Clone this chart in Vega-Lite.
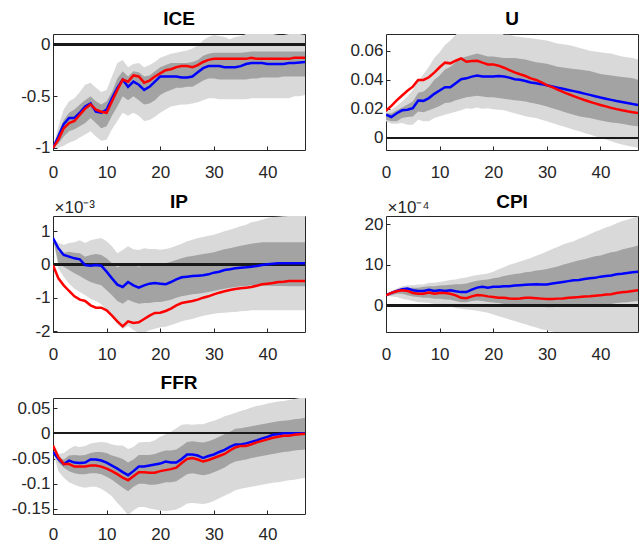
{
"$schema":"https://vega.github.io/schema/vega-lite/v6.json",
"padding":{"left":10,"top":9,"right":0,"bottom":0},
"columns":2,
"spacing":{"row":66,"column":81},
"bounds":"flush",
"datasets":{
"ICE":[
{"h":0,"b":-1,"r":-1,"l1":-1,"u1":-1,"l2":-1,"u2":-1},
{"h":1,"b":-0.89,"r":-0.92,"l1":-1.0,"u1":-0.79,"l2":-0.96,"u2":-0.85},
{"h":2,"b":-0.77,"r":-0.81,"l1":-0.98,"u1":-0.63,"l2":-0.89,"u2":-0.73},
{"h":3,"b":-0.71,"r":-0.76,"l1":-0.95,"u1":-0.55,"l2":-0.84,"u2":-0.66},
{"h":4,"b":-0.71,"r":-0.74,"l1":-0.93,"u1":-0.52,"l2":-0.82,"u2":-0.63},
{"h":5,"b":-0.66,"r":-0.68,"l1":-0.9,"u1":-0.46,"l2":-0.79,"u2":-0.58},
{"h":6,"b":-0.6,"r":-0.62,"l1":-0.87,"u1":-0.39,"l2":-0.76,"u2":-0.54},
{"h":7,"b":-0.57,"r":-0.58,"l1":-0.84,"u1":-0.37,"l2":-0.71,"u2":-0.5},
{"h":8,"b":-0.65,"r":-0.63,"l1":-0.89,"u1":-0.42,"l2":-0.76,"u2":-0.55},
{"h":9,"b":-0.66,"r":-0.65,"l1":-0.93,"u1":-0.46,"l2":-0.81,"u2":-0.58},
{"h":10,"b":-0.63,"r":-0.66,"l1":-0.92,"u1":-0.44,"l2":-0.79,"u2":-0.55},
{"h":11,"b":-0.52,"r":-0.55,"l1":-0.82,"u1":-0.31,"l2":-0.69,"u2":-0.46},
{"h":12,"b":-0.42,"r":-0.44,"l1":-0.74,"u1":-0.18,"l2":-0.6,"u2":-0.33},
{"h":13,"b":-0.34,"r":-0.34,"l1":-0.66,"u1":-0.15,"l2":-0.5,"u2":-0.26},
{"h":14,"b":-0.41,"r":-0.36,"l1":-0.69,"u1":-0.22,"l2":-0.54,"u2":-0.31},
{"h":15,"b":-0.36,"r":-0.3,"l1":-0.66,"u1":-0.19,"l2":-0.5,"u2":-0.26},
{"h":16,"b":-0.39,"r":-0.31,"l1":-0.69,"u1":-0.18,"l2":-0.54,"u2":-0.27},
{"h":17,"b":-0.44,"r":-0.37,"l1":-0.74,"u1":-0.22,"l2":-0.58,"u2":-0.31},
{"h":18,"b":-0.41,"r":-0.35,"l1":-0.73,"u1":-0.2,"l2":-0.57,"u2":-0.3},
{"h":19,"b":-0.36,"r":-0.31,"l1":-0.7,"u1":-0.17,"l2":-0.54,"u2":-0.26},
{"h":20,"b":-0.31,"r":-0.28,"l1":-0.66,"u1":-0.13,"l2":-0.49,"u2":-0.22},
{"h":21,"b":-0.31,"r":-0.25,"l1":-0.63,"u1":-0.11,"l2":-0.46,"u2":-0.2},
{"h":22,"b":-0.31,"r":-0.24,"l1":-0.6,"u1":-0.09,"l2":-0.44,"u2":-0.18},
{"h":23,"b":-0.31,"r":-0.22,"l1":-0.59,"u1":-0.08,"l2":-0.42,"u2":-0.18},
{"h":24,"b":-0.32,"r":-0.21,"l1":-0.58,"u1":-0.07,"l2":-0.42,"u2":-0.18},
{"h":25,"b":-0.32,"r":-0.21,"l1":-0.58,"u1":-0.06,"l2":-0.41,"u2":-0.18},
{"h":26,"b":-0.31,"r":-0.22,"l1":-0.57,"u1":-0.04,"l2":-0.41,"u2":-0.17},
{"h":27,"b":-0.27,"r":-0.2,"l1":-0.56,"u1":-0.01,"l2":-0.38,"u2":-0.15},
{"h":28,"b":-0.23,"r":-0.17,"l1":-0.54,"u1":0.04,"l2":-0.35,"u2":-0.11},
{"h":29,"b":-0.21,"r":-0.15,"l1":-0.52,"u1":0.07,"l2":-0.33,"u2":-0.09},
{"h":30,"b":-0.21,"r":-0.14,"l1":-0.52,"u1":0.09,"l2":-0.33,"u2":-0.08},
{"h":31,"b":-0.21,"r":-0.14,"l1":-0.53,"u1":0.08,"l2":-0.34,"u2":-0.08},
{"h":32,"b":-0.22,"r":-0.14,"l1":-0.53,"u1":0.07,"l2":-0.34,"u2":-0.08},
{"h":33,"b":-0.22,"r":-0.14,"l1":-0.53,"u1":0.05,"l2":-0.34,"u2":-0.08},
{"h":34,"b":-0.22,"r":-0.14,"l1":-0.53,"u1":0.07,"l2":-0.34,"u2":-0.08},
{"h":35,"b":-0.21,"r":-0.14,"l1":-0.53,"u1":0.08,"l2":-0.34,"u2":-0.08},
{"h":36,"b":-0.19,"r":-0.14,"l1":-0.53,"u1":0.1,"l2":-0.34,"u2":-0.075},
{"h":37,"b":-0.18,"r":-0.13,"l1":-0.52,"u1":0.12,"l2":-0.33,"u2":-0.07},
{"h":38,"b":-0.18,"r":-0.14,"l1":-0.52,"u1":0.13,"l2":-0.33,"u2":-0.07},
{"h":39,"b":-0.18,"r":-0.14,"l1":-0.52,"u1":0.13,"l2":-0.32,"u2":-0.07},
{"h":40,"b":-0.19,"r":-0.14,"l1":-0.52,"u1":0.12,"l2":-0.32,"u2":-0.07},
{"h":41,"b":-0.19,"r":-0.14,"l1":-0.52,"u1":0.1,"l2":-0.32,"u2":-0.07},
{"h":42,"b":-0.19,"r":-0.14,"l1":-0.52,"u1":0.09,"l2":-0.32,"u2":-0.07},
{"h":43,"b":-0.19,"r":-0.14,"l1":-0.52,"u1":0.09,"l2":-0.31,"u2":-0.07},
{"h":44,"b":-0.18,"r":-0.14,"l1":-0.52,"u1":0.1,"l2":-0.31,"u2":-0.07},
{"h":45,"b":-0.18,"r":-0.13,"l1":-0.5,"u1":0.1,"l2":-0.31,"u2":-0.07},
{"h":46,"b":-0.175,"r":-0.13,"l1":-0.5,"u1":0.1,"l2":-0.31,"u2":-0.07},
{"h":47,"b":-0.17,"r":-0.13,"l1":-0.49,"u1":0.09,"l2":-0.31,"u2":-0.07}
],
"U":[
{"h":0,"b":0.016,"r":0.0187,"l1":0.0114,"u1":0.018,"l2":0.0125,"u2":0.017},
{"h":1,"b":0.0144,"r":0.0221,"l1":0.0098,"u1":0.0194,"l2":0.0114,"u2":0.017},
{"h":2,"b":0.017,"r":0.0258,"l1":0.0098,"u1":0.022,"l2":0.0114,"u2":0.019},
{"h":3,"b":0.019,"r":0.0292,"l1":0.0103,"u1":0.025,"l2":0.0137,"u2":0.021},
{"h":4,"b":0.0194,"r":0.0324,"l1":0.0091,"u1":0.0285,"l2":0.0144,"u2":0.023},
{"h":5,"b":0.0205,"r":0.0353,"l1":0.0091,"u1":0.033,"l2":0.0148,"u2":0.025},
{"h":6,"b":0.0258,"r":0.0399,"l1":0.0125,"u1":0.039,"l2":0.0182,"u2":0.031},
{"h":7,"b":0.0255,"r":0.0399,"l1":0.0114,"u1":0.044,"l2":0.0176,"u2":0.032},
{"h":8,"b":0.0274,"r":0.0417,"l1":0.0114,"u1":0.049,"l2":0.019,"u2":0.035},
{"h":9,"b":0.0303,"r":0.0449,"l1":0.0137,"u1":0.055,"l2":0.0205,"u2":0.04},
{"h":10,"b":0.0326,"r":0.0486,"l1":0.015,"u1":0.059,"l2":0.022,"u2":0.043},
{"h":11,"b":0.0349,"r":0.0518,"l1":0.016,"u1":0.064,"l2":0.024,"u2":0.047},
{"h":12,"b":0.0349,"r":0.0513,"l1":0.017,"u1":0.067,"l2":0.0244,"u2":0.049},
{"h":13,"b":0.0376,"r":0.0531,"l1":0.018,"u1":0.071,"l2":0.026,"u2":0.052},
{"h":14,"b":0.0404,"r":0.0547,"l1":0.019,"u1":0.074,"l2":0.027,"u2":0.055},
{"h":15,"b":0.041,"r":0.0524,"l1":0.0205,"u1":0.076,"l2":0.028,"u2":0.056},
{"h":16,"b":0.0422,"r":0.0529,"l1":0.02,"u1":0.077,"l2":0.0285,"u2":0.057},
{"h":17,"b":0.0429,"r":0.0531,"l1":0.021,"u1":0.077,"l2":0.029,"u2":0.058},
{"h":18,"b":0.0422,"r":0.0518,"l1":0.02,"u1":0.077,"l2":0.0285,"u2":0.057},
{"h":19,"b":0.0422,"r":0.0506,"l1":0.0205,"u1":0.076,"l2":0.028,"u2":0.056},
{"h":20,"b":0.0422,"r":0.0506,"l1":0.0198,"u1":0.075,"l2":0.028,"u2":0.056},
{"h":21,"b":0.0426,"r":0.0497,"l1":0.0194,"u1":0.073,"l2":0.0275,"u2":0.0555},
{"h":22,"b":0.0422,"r":0.0483,"l1":0.019,"u1":0.071,"l2":0.027,"u2":0.055},
{"h":23,"b":0.0415,"r":0.0467,"l1":0.018,"u1":0.071,"l2":0.0265,"u2":0.055},
{"h":24,"b":0.0404,"r":0.0451,"l1":0.017,"u1":0.07,"l2":0.026,"u2":0.055},
{"h":25,"b":0.04,"r":0.0438,"l1":0.016,"u1":0.0695,"l2":0.0255,"u2":0.0545},
{"h":26,"b":0.0392,"r":0.0426,"l1":0.015,"u1":0.069,"l2":0.025,"u2":0.054},
{"h":27,"b":0.0381,"r":0.041,"l1":0.0143,"u1":0.0685,"l2":0.0242,"u2":0.053},
{"h":28,"b":0.0376,"r":0.0399,"l1":0.0137,"u1":0.068,"l2":0.0235,"u2":0.052},
{"h":29,"b":0.037,"r":0.0383,"l1":0.0125,"u1":0.0675,"l2":0.0226,"u2":0.0515},
{"h":30,"b":0.0362,"r":0.0363,"l1":0.0114,"u1":0.067,"l2":0.0217,"u2":0.051},
{"h":31,"b":0.0354,"r":0.0349,"l1":0.0102,"u1":0.066,"l2":0.0205,"u2":0.05},
{"h":32,"b":0.0346,"r":0.0333,"l1":0.0091,"u1":0.065,"l2":0.0194,"u2":0.049},
{"h":33,"b":0.0338,"r":0.0317,"l1":0.008,"u1":0.0645,"l2":0.0182,"u2":0.0485},
{"h":34,"b":0.033,"r":0.0302,"l1":0.0068,"u1":0.064,"l2":0.017,"u2":0.048},
{"h":35,"b":0.0322,"r":0.0288,"l1":0.0057,"u1":0.063,"l2":0.016,"u2":0.0475},
{"h":36,"b":0.0314,"r":0.0274,"l1":0.0046,"u1":0.062,"l2":0.015,"u2":0.047},
{"h":37,"b":0.0305,"r":0.0261,"l1":0.0034,"u1":0.061,"l2":0.0143,"u2":0.0465},
{"h":38,"b":0.0296,"r":0.0249,"l1":0.0023,"u1":0.06,"l2":0.0137,"u2":0.046},
{"h":39,"b":0.0287,"r":0.0238,"l1":0.0011,"u1":0.0595,"l2":0.0128,"u2":0.045},
{"h":40,"b":0.0278,"r":0.0227,"l1":0,"u1":0.059,"l2":0.012,"u2":0.044},
{"h":41,"b":0.027,"r":0.0217,"l1":-0.0011,"u1":0.0585,"l2":0.0113,"u2":0.0435},
{"h":42,"b":0.0262,"r":0.0207,"l1":-0.0023,"u1":0.058,"l2":0.0107,"u2":0.043},
{"h":43,"b":0.0254,"r":0.0198,"l1":-0.0034,"u1":0.057,"l2":0.0102,"u2":0.0425},
{"h":44,"b":0.0247,"r":0.019,"l1":-0.0046,"u1":0.056,"l2":0.0098,"u2":0.042},
{"h":45,"b":0.024,"r":0.0183,"l1":-0.0053,"u1":0.0555,"l2":0.009,"u2":0.0415},
{"h":46,"b":0.0233,"r":0.0177,"l1":-0.006,"u1":0.055,"l2":0.0084,"u2":0.041},
{"h":47,"b":0.0227,"r":0.0171,"l1":-0.0068,"u1":0.054,"l2":0.008,"u2":0.04}
],
"IP":[
{"h":0,"b":0.79,"r":-0.03,"l1":0.79,"u1":0.79,"l2":0.79,"u2":0.79},
{"h":1,"b":0.48,"r":-0.42,"l1":-0.12,"u1":0.64,"l2":0.05,"u2":0.38},
{"h":2,"b":0.28,"r":-0.63,"l1":-0.37,"u1":0.59,"l2":-0.07,"u2":0.35},
{"h":3,"b":0.23,"r":-0.8,"l1":-0.58,"u1":0.64,"l2":-0.17,"u2":0.38},
{"h":4,"b":0.18,"r":-0.96,"l1":-0.73,"u1":0.66,"l2":-0.27,"u2":0.35},
{"h":5,"b":0.15,"r":-1.06,"l1":-0.83,"u1":0.72,"l2":-0.35,"u2":0.33},
{"h":6,"b":-0.02,"r":-1.1,"l1":-0.93,"u1":0.64,"l2":-0.45,"u2":0.23},
{"h":7,"b":-0.04,"r":-1.23,"l1":-1.03,"u1":0.72,"l2":-0.53,"u2":0.28},
{"h":8,"b":-0.02,"r":-1.3,"l1":-1.1,"u1":0.76,"l2":-0.58,"u2":0.31},
{"h":9,"b":-0.04,"r":-1.3,"l1":-1.2,"u1":0.79,"l2":-0.63,"u2":0.28},
{"h":10,"b":-0.22,"r":-1.38,"l1":-1.38,"u1":0.69,"l2":-0.78,"u2":0.18},
{"h":11,"b":-0.42,"r":-1.54,"l1":-1.59,"u1":0.54,"l2":-0.93,"u2":0.03},
{"h":12,"b":-0.61,"r":-1.71,"l1":-1.79,"u1":0.33,"l2":-1.1,"u2":-0.09},
{"h":13,"b":-0.68,"r":-1.86,"l1":-1.94,"u1":0.43,"l2":-1.18,"u2":-0.02},
{"h":14,"b":-0.53,"r":-1.71,"l1":-1.85,"u1":0.54,"l2":-1.06,"u2":0.05},
{"h":15,"b":-0.63,"r":-1.76,"l1":-1.97,"u1":0.45,"l2":-1.13,"u2":-0.02},
{"h":16,"b":-0.7,"r":-1.74,"l1":-2.05,"u1":0.43,"l2":-1.18,"u2":-0.07},
{"h":17,"b":-0.63,"r":-1.64,"l1":-2.05,"u1":0.48,"l2":-1.16,"u2":-0.02},
{"h":18,"b":-0.58,"r":-1.54,"l1":-1.98,"u1":0.46,"l2":-1.16,"u2":0},
{"h":19,"b":-0.56,"r":-1.46,"l1":-1.93,"u1":0.46,"l2":-1.13,"u2":0.01},
{"h":20,"b":-0.58,"r":-1.45,"l1":-1.89,"u1":0.44,"l2":-1.13,"u2":0.01},
{"h":21,"b":-0.6,"r":-1.4,"l1":-1.87,"u1":0.46,"l2":-1.1,"u2":0.03},
{"h":22,"b":-0.53,"r":-1.33,"l1":-1.82,"u1":0.5,"l2":-1.06,"u2":0.08},
{"h":23,"b":-0.45,"r":-1.23,"l1":-1.77,"u1":0.56,"l2":-1.0,"u2":0.13},
{"h":24,"b":-0.39,"r":-1.16,"l1":-1.71,"u1":0.62,"l2":-0.96,"u2":0.18},
{"h":25,"b":-0.37,"r":-1.13,"l1":-1.67,"u1":0.69,"l2":-0.93,"u2":0.23},
{"h":26,"b":-0.35,"r":-1.1,"l1":-1.64,"u1":0.74,"l2":-0.9,"u2":0.25},
{"h":27,"b":-0.34,"r":-1.06,"l1":-1.59,"u1":0.79,"l2":-0.88,"u2":0.28},
{"h":28,"b":-0.33,"r":-1.0,"l1":-1.54,"u1":0.82,"l2":-0.86,"u2":0.31},
{"h":29,"b":-0.3,"r":-0.96,"l1":-1.51,"u1":0.86,"l2":-0.83,"u2":0.33},
{"h":30,"b":-0.25,"r":-0.9,"l1":-1.48,"u1":0.89,"l2":-0.8,"u2":0.36},
{"h":31,"b":-0.22,"r":-0.85,"l1":-1.46,"u1":0.94,"l2":-0.76,"u2":0.41},
{"h":32,"b":-0.17,"r":-0.81,"l1":-1.45,"u1":0.99,"l2":-0.73,"u2":0.45},
{"h":33,"b":-0.15,"r":-0.77,"l1":-1.44,"u1":1.04,"l2":-0.7,"u2":0.48},
{"h":34,"b":-0.12,"r":-0.74,"l1":-1.43,"u1":1.09,"l2":-0.68,"u2":0.52},
{"h":35,"b":-0.1,"r":-0.72,"l1":-1.41,"u1":1.14,"l2":-0.66,"u2":0.56},
{"h":36,"b":-0.09,"r":-0.7,"l1":-1.4,"u1":1.19,"l2":-0.65,"u2":0.59},
{"h":37,"b":-0.07,"r":-0.68,"l1":-1.38,"u1":1.26,"l2":-0.63,"u2":0.62},
{"h":38,"b":-0.05,"r":-0.64,"l1":-1.38,"u1":1.29,"l2":-0.64,"u2":0.64},
{"h":39,"b":-0.02,"r":-0.6,"l1":-1.38,"u1":1.34,"l2":-0.64,"u2":0.66},
{"h":40,"b":0,"r":-0.58,"l1":-1.38,"u1":1.39,"l2":-0.64,"u2":0.66},
{"h":41,"b":0.02,"r":-0.56,"l1":-1.38,"u1":1.42,"l2":-0.65,"u2":0.66},
{"h":42,"b":0.03,"r":-0.53,"l1":-1.38,"u1":1.43,"l2":-0.65,"u2":0.66},
{"h":43,"b":0.03,"r":-0.52,"l1":-1.38,"u1":1.44,"l2":-0.65,"u2":0.66},
{"h":44,"b":0.03,"r":-0.5,"l1":-1.38,"u1":1.45,"l2":-0.66,"u2":0.66},
{"h":45,"b":0.03,"r":-0.5,"l1":-1.38,"u1":1.46,"l2":-0.66,"u2":0.66},
{"h":46,"b":0.03,"r":-0.5,"l1":-1.38,"u1":1.46,"l2":-0.66,"u2":0.66},
{"h":47,"b":0.03,"r":-0.5,"l1":-1.38,"u1":1.46,"l2":-0.66,"u2":0.66}
],
"CPI":[
{"h":0,"b":2.5,"r":2.5,"l1":2.5,"u1":2.5,"l2":2.5,"u2":2.5},
{"h":1,"b":3.1,"r":3.1,"l1":2.25,"u1":3.6,"l2":2.5,"u2":3.3},
{"h":2,"b":3.6,"r":3.5,"l1":2.1,"u1":4.2,"l2":2.9,"u2":3.75},
{"h":3,"b":4.0,"r":3.75,"l1":1.7,"u1":4.75,"l2":2.9,"u2":4.2},
{"h":4,"b":4.2,"r":3.6,"l1":1.4,"u1":5.0,"l2":2.5,"u2":4.4},
{"h":5,"b":3.75,"r":3.1,"l1":1.1,"u1":5.0,"l2":2.25,"u2":4.4},
{"h":6,"b":3.6,"r":2.9,"l1":0.8,"u1":5.2,"l2":2.1,"u2":4.4},
{"h":7,"b":3.6,"r":2.9,"l1":0.75,"u1":5.2,"l2":1.9,"u2":4.6},
{"h":8,"b":3.9,"r":3.2,"l1":0.6,"u1":5.6,"l2":1.9,"u2":4.75},
{"h":9,"b":3.6,"r":2.9,"l1":0.4,"u1":5.6,"l2":1.7,"u2":4.75},
{"h":10,"b":3.75,"r":3.1,"l1":0.25,"u1":5.8,"l2":1.7,"u2":4.9},
{"h":11,"b":3.6,"r":3.1,"l1":0,"u1":6.0,"l2":1.5,"u2":5.0},
{"h":12,"b":3.75,"r":2.9,"l1":-0.25,"u1":6.25,"l2":1.4,"u2":5.1},
{"h":13,"b":3.5,"r":2.5,"l1":-0.6,"u1":6.4,"l2":1.1,"u2":5.25},
{"h":14,"b":3.3,"r":1.9,"l1":-0.8,"u1":6.7,"l2":0.8,"u2":5.25},
{"h":15,"b":3.3,"r":1.8,"l1":-1.0,"u1":6.9,"l2":0.8,"u2":5.4},
{"h":16,"b":3.9,"r":2.25,"l1":-1.1,"u1":7.25,"l2":1.1,"u2":5.8},
{"h":17,"b":4.4,"r":2.6,"l1":-1.25,"u1":7.5,"l2":1.25,"u2":6.1},
{"h":18,"b":4.6,"r":2.5,"l1":-1.5,"u1":7.7,"l2":1.1,"u2":6.25},
{"h":19,"b":4.4,"r":2.25,"l1":-1.8,"u1":7.9,"l2":0.9,"u2":6.4},
{"h":20,"b":4.6,"r":2.1,"l1":-2.2,"u1":8.3,"l2":0.75,"u2":6.7},
{"h":21,"b":4.6,"r":1.9,"l1":-2.6,"u1":8.9,"l2":0.6,"u2":6.9},
{"h":22,"b":4.75,"r":1.9,"l1":-3.0,"u1":9.4,"l2":0.4,"u2":7.25},
{"h":23,"b":4.75,"r":1.75,"l1":-3.4,"u1":10.0,"l2":0.25,"u2":7.5},
{"h":24,"b":4.9,"r":1.7,"l1":-3.8,"u1":10.4,"l2":0.1,"u2":7.75},
{"h":25,"b":5.0,"r":1.75,"l1":-4.2,"u1":10.8,"l2":0,"u2":7.9},
{"h":26,"b":5.1,"r":1.9,"l1":-4.6,"u1":11.25,"l2":-0.1,"u2":8.2},
{"h":27,"b":5.2,"r":1.9,"l1":-5.0,"u1":11.7,"l2":-0.2,"u2":8.3},
{"h":28,"b":5.25,"r":1.8,"l1":-5.4,"u1":12.25,"l2":-0.25,"u2":8.6},
{"h":29,"b":5.2,"r":1.7,"l1":-5.8,"u1":12.75,"l2":-0.3,"u2":8.75},
{"h":30,"b":5.2,"r":1.6,"l1":-6.1,"u1":13.3,"l2":-0.4,"u2":9.0},
{"h":31,"b":5.4,"r":1.6,"l1":-6.4,"u1":13.9,"l2":-0.4,"u2":9.3},
{"h":32,"b":5.6,"r":1.7,"l1":-6.7,"u1":14.4,"l2":-0.3,"u2":9.6},
{"h":33,"b":5.8,"r":1.75,"l1":-7.0,"u1":15.0,"l2":-0.25,"u2":10.0},
{"h":34,"b":6.0,"r":1.9,"l1":-7.3,"u1":15.4,"l2":-0.25,"u2":10.4},
{"h":35,"b":6.2,"r":2.0,"l1":-7.6,"u1":15.8,"l2":-0.2,"u2":10.75},
{"h":36,"b":6.3,"r":2.1,"l1":-7.9,"u1":16.4,"l2":-0.1,"u2":11.1},
{"h":37,"b":6.5,"r":2.25,"l1":-8.2,"u1":16.9,"l2":0,"u2":11.4},
{"h":38,"b":6.7,"r":2.3,"l1":-8.5,"u1":17.5,"l2":0.1,"u2":11.75},
{"h":39,"b":6.8,"r":2.4,"l1":-8.8,"u1":18.1,"l2":0.2,"u2":12.1},
{"h":40,"b":7.1,"r":2.5,"l1":-9.1,"u1":18.6,"l2":0.25,"u2":12.3},
{"h":41,"b":7.25,"r":2.7,"l1":-9.4,"u1":19.2,"l2":0.3,"u2":12.7},
{"h":42,"b":7.4,"r":2.8,"l1":-9.7,"u1":19.6,"l2":0.4,"u2":13.1},
{"h":43,"b":7.7,"r":3.1,"l1":-10.0,"u1":20.2,"l2":0.6,"u2":13.3},
{"h":44,"b":7.8,"r":3.25,"l1":-10.3,"u1":20.7,"l2":0.75,"u2":13.75},
{"h":45,"b":8.0,"r":3.4,"l1":-10.6,"u1":21.1,"l2":0.8,"u2":14.1},
{"h":46,"b":8.2,"r":3.6,"l1":-10.9,"u1":21.5,"l2":1.0,"u2":14.4},
{"h":47,"b":8.3,"r":3.75,"l1":-11.2,"u1":21.9,"l2":1.1,"u2":14.75}
],
"FFR":[
{"h":0,"b":-0.037,"r":-0.024,"l1":-0.037,"u1":-0.037,"l2":-0.037,"u2":-0.037},
{"h":1,"b":-0.051,"r":-0.047,"l1":-0.075,"u1":-0.041,"l2":-0.058,"u2":-0.047},
{"h":2,"b":-0.061,"r":-0.061,"l1":-0.088,"u1":-0.039,"l2":-0.068,"u2":-0.052},
{"h":3,"b":-0.054,"r":-0.061,"l1":-0.097,"u1":-0.031,"l2":-0.075,"u2":-0.044},
{"h":4,"b":-0.058,"r":-0.066,"l1":-0.102,"u1":-0.025,"l2":-0.079,"u2":-0.043},
{"h":5,"b":-0.059,"r":-0.066,"l1":-0.106,"u1":-0.027,"l2":-0.081,"u2":-0.044},
{"h":6,"b":-0.058,"r":-0.066,"l1":-0.108,"u1":-0.025,"l2":-0.081,"u2":-0.043},
{"h":7,"b":-0.052,"r":-0.064,"l1":-0.106,"u1":-0.02,"l2":-0.079,"u2":-0.039},
{"h":8,"b":-0.052,"r":-0.064,"l1":-0.106,"u1":-0.018,"l2":-0.079,"u2":-0.037},
{"h":9,"b":-0.054,"r":-0.066,"l1":-0.11,"u1":-0.017,"l2":-0.081,"u2":-0.037},
{"h":10,"b":-0.058,"r":-0.07,"l1":-0.117,"u1":-0.018,"l2":-0.086,"u2":-0.039},
{"h":11,"b":-0.064,"r":-0.075,"l1":-0.125,"u1":-0.022,"l2":-0.092,"u2":-0.044},
{"h":12,"b":-0.07,"r":-0.081,"l1":-0.138,"u1":-0.024,"l2":-0.1,"u2":-0.047},
{"h":13,"b":-0.077,"r":-0.088,"l1":-0.149,"u1":-0.024,"l2":-0.108,"u2":-0.051},
{"h":14,"b":-0.083,"r":-0.093,"l1":-0.162,"u1":-0.031,"l2":-0.115,"u2":-0.058},
{"h":15,"b":-0.075,"r":-0.085,"l1":-0.153,"u1":-0.027,"l2":-0.106,"u2":-0.052},
{"h":16,"b":-0.066,"r":-0.077,"l1":-0.146,"u1":-0.018,"l2":-0.1,"u2":-0.043},
{"h":17,"b":-0.066,"r":-0.077,"l1":-0.146,"u1":-0.017,"l2":-0.1,"u2":-0.043},
{"h":18,"b":-0.064,"r":-0.078,"l1":-0.149,"u1":-0.017,"l2":-0.102,"u2":-0.043},
{"h":19,"b":-0.062,"r":-0.078,"l1":-0.151,"u1":-0.014,"l2":-0.102,"u2":-0.041},
{"h":20,"b":-0.06,"r":-0.075,"l1":-0.153,"u1":-0.007,"l2":-0.1,"u2":-0.037},
{"h":21,"b":-0.056,"r":-0.073,"l1":-0.154,"u1":-0.002,"l2":-0.097,"u2":-0.034},
{"h":22,"b":-0.058,"r":-0.071,"l1":-0.153,"u1":0.003,"l2":-0.097,"u2":-0.034},
{"h":23,"b":-0.058,"r":-0.068,"l1":-0.151,"u1":0.01,"l2":-0.095,"u2":-0.032},
{"h":24,"b":-0.051,"r":-0.059,"l1":-0.146,"u1":0.017,"l2":-0.088,"u2":-0.025},
{"h":25,"b":-0.042,"r":-0.051,"l1":-0.139,"u1":0.018,"l2":-0.081,"u2":-0.017},
{"h":26,"b":-0.042,"r":-0.049,"l1":-0.138,"u1":0.017,"l2":-0.079,"u2":-0.016},
{"h":27,"b":-0.044,"r":-0.052,"l1":-0.139,"u1":0.018,"l2":-0.081,"u2":-0.017},
{"h":28,"b":-0.049,"r":-0.056,"l1":-0.14,"u1":0.018,"l2":-0.083,"u2":-0.018},
{"h":29,"b":-0.045,"r":-0.053,"l1":-0.138,"u1":0.022,"l2":-0.081,"u2":-0.016},
{"h":30,"b":-0.042,"r":-0.049,"l1":-0.134,"u1":0.025,"l2":-0.077,"u2":-0.012},
{"h":31,"b":-0.037,"r":-0.045,"l1":-0.129,"u1":0.029,"l2":-0.073,"u2":-0.007},
{"h":32,"b":-0.033,"r":-0.041,"l1":-0.124,"u1":0.034,"l2":-0.068,"u2":-0.002},
{"h":33,"b":-0.027,"r":-0.034,"l1":-0.119,"u1":0.037,"l2":-0.061,"u2":0.003},
{"h":34,"b":-0.022,"r":-0.028,"l1":-0.113,"u1":0.041,"l2":-0.056,"u2":0.009},
{"h":35,"b":-0.022,"r":-0.025,"l1":-0.11,"u1":0.044,"l2":-0.054,"u2":0.01},
{"h":36,"b":-0.02,"r":-0.025,"l1":-0.108,"u1":0.047,"l2":-0.052,"u2":0.012},
{"h":37,"b":-0.017,"r":-0.022,"l1":-0.106,"u1":0.051,"l2":-0.049,"u2":0.014},
{"h":38,"b":-0.014,"r":-0.018,"l1":-0.104,"u1":0.054,"l2":-0.047,"u2":0.016},
{"h":39,"b":-0.01,"r":-0.015,"l1":-0.102,"u1":0.056,"l2":-0.045,"u2":0.018},
{"h":40,"b":-0.007,"r":-0.012,"l1":-0.1,"u1":0.059,"l2":-0.043,"u2":0.02},
{"h":41,"b":-0.003,"r":-0.009,"l1":-0.098,"u1":0.061,"l2":-0.041,"u2":0.022},
{"h":42,"b":-0.002,"r":-0.007,"l1":-0.097,"u1":0.063,"l2":-0.039,"u2":0.024},
{"h":43,"b":0,"r":-0.005,"l1":-0.095,"u1":0.064,"l2":-0.037,"u2":0.025},
{"h":44,"b":0,"r":-0.005,"l1":-0.093,"u1":0.066,"l2":-0.036,"u2":0.026},
{"h":45,"b":0,"r":-0.003,"l1":-0.092,"u1":0.068,"l2":-0.034,"u2":0.028},
{"h":46,"b":0,"r":-0.002,"l1":-0.09,"u1":0.07,"l2":-0.033,"u2":0.029},
{"h":47,"b":0,"r":-0.001,"l1":-0.088,"u1":0.071,"l2":-0.032,"u2":0.031}
]
},
"concat":[
{"width":252,"height":116,"title":"ICE","data":{"name":"ICE"},
 "layer":[
  {"mark":{"type":"area","color":"#d9d9d9","opacity":1,"clip":true},"encoding":{"x":{"field":"h","type":"quantitative","scale":{"domain":[0,47],"nice":false,"zero":false},"axis":{"values":[0,10,20,30,40],"tickCount":10,"title":null,"labelOverlap":false}},"y":{"field":"l1","type":"quantitative","scale":{"domain":[-1.02,0.1],"nice":false,"zero":false},"axis":{"values":[-1,-0.5,0],"tickCount":10,"title":null,"labelOverlap":false}},"y2":{"field":"u1"}}},
  {"mark":{"type":"area","color":"#a3a3a3","opacity":1,"clip":true},"encoding":{"x":{"field":"h","type":"quantitative"},"y":{"field":"l2","type":"quantitative"},"y2":{"field":"u2"}}},
  {"mark":{"type":"rule","color":"#1a1a1a","strokeWidth":1.6},"encoding":{"y":{"datum":0}}},
  {"mark":{"type":"line","color":"#0000ff","strokeWidth":2.5,"clip":true},"encoding":{"x":{"field":"h","type":"quantitative"},"y":{"field":"b","type":"quantitative"}}},
  {"mark":{"type":"line","color":"#ff0000","strokeWidth":2.5,"clip":true},"encoding":{"x":{"field":"h","type":"quantitative"},"y":{"field":"r","type":"quantitative"}}}
 ]},
{"width":252,"height":116,"title":"U","data":{"name":"U"},
 "layer":[
  {"mark":{"type":"area","color":"#d9d9d9","opacity":1,"clip":true},"encoding":{"x":{"field":"h","type":"quantitative","scale":{"domain":[0,47],"nice":false,"zero":false},"axis":{"values":[0,10,20,30,40],"tickCount":10,"title":null,"labelOverlap":false}},"y":{"field":"l1","type":"quantitative","scale":{"domain":[-0.0083,0.0715],"nice":false,"zero":false},"axis":{"values":[0,0.02,0.04,0.06],"tickCount":10,"title":null,"labelOverlap":false}},"y2":{"field":"u1"}}},
  {"mark":{"type":"area","color":"#a3a3a3","opacity":1,"clip":true},"encoding":{"x":{"field":"h","type":"quantitative"},"y":{"field":"l2","type":"quantitative"},"y2":{"field":"u2"}}},
  {"mark":{"type":"rule","color":"#1a1a1a","strokeWidth":1.6},"encoding":{"y":{"datum":0}}},
  {"mark":{"type":"line","color":"#0000ff","strokeWidth":2.5,"clip":true},"encoding":{"x":{"field":"h","type":"quantitative"},"y":{"field":"b","type":"quantitative"}}},
  {"mark":{"type":"line","color":"#ff0000","strokeWidth":2.5,"clip":true},"encoding":{"x":{"field":"h","type":"quantitative"},"y":{"field":"r","type":"quantitative"}}}
 ]},
{"width":252,"height":116,"title":{"text":"IP","offset":-14},"data":{"name":"IP"},
 "layer":[
  {"mark":{"type":"area","color":"#d9d9d9","opacity":1,"clip":true},"encoding":{"x":{"field":"h","type":"quantitative","scale":{"domain":[0,47],"nice":false,"zero":false},"axis":{"values":[0,10,20,30,40],"tickCount":10,"title":null,"labelOverlap":false}},"y":{"field":"l1","type":"quantitative","scale":{"domain":[-2.03,1.45],"nice":false,"zero":false},"axis":{"values":[-2,-1,0,1],"tickCount":10,"labelOverlap":false,"title":"×10⁻³","titleAngle":0,"titleAlign":"left","titleBaseline":"alphabetic","titleX":1,"titleY":-4,"titleFontWeight":"normal","titleFontSize":17,"titleColor":"#262626"}},"y2":{"field":"u1"}}},
  {"mark":{"type":"area","color":"#a3a3a3","opacity":1,"clip":true},"encoding":{"x":{"field":"h","type":"quantitative"},"y":{"field":"l2","type":"quantitative"},"y2":{"field":"u2"}}},
  {"mark":{"type":"rule","color":"#1a1a1a","strokeWidth":1.6},"encoding":{"y":{"datum":0}}},
  {"mark":{"type":"line","color":"#0000ff","strokeWidth":2.5,"clip":true},"encoding":{"x":{"field":"h","type":"quantitative"},"y":{"field":"b","type":"quantitative"}}},
  {"mark":{"type":"line","color":"#ff0000","strokeWidth":2.5,"clip":true},"encoding":{"x":{"field":"h","type":"quantitative"},"y":{"field":"r","type":"quantitative"}}}
 ]},
{"width":252,"height":116,"title":{"text":"CPI","offset":-14},"data":{"name":"CPI"},
 "layer":[
  {"mark":{"type":"area","color":"#d9d9d9","opacity":1,"clip":true},"encoding":{"x":{"field":"h","type":"quantitative","scale":{"domain":[0,47],"nice":false,"zero":false},"axis":{"values":[0,10,20,30,40],"tickCount":10,"title":null,"labelOverlap":false}},"y":{"field":"l1","type":"quantitative","scale":{"domain":[-6.5,22],"nice":false,"zero":false},"axis":{"values":[0,10,20],"tickCount":10,"labelOverlap":false,"title":"×10⁻⁴","titleAngle":0,"titleAlign":"left","titleBaseline":"alphabetic","titleX":1,"titleY":-4,"titleFontWeight":"normal","titleFontSize":17,"titleColor":"#262626"}},"y2":{"field":"u1"}}},
  {"mark":{"type":"area","color":"#a3a3a3","opacity":1,"clip":true},"encoding":{"x":{"field":"h","type":"quantitative"},"y":{"field":"l2","type":"quantitative"},"y2":{"field":"u2"}}},
  {"mark":{"type":"rule","color":"#1a1a1a","strokeWidth":1.6},"encoding":{"y":{"datum":0}}},
  {"mark":{"type":"line","color":"#0000ff","strokeWidth":2.5,"clip":true},"encoding":{"x":{"field":"h","type":"quantitative"},"y":{"field":"b","type":"quantitative"}}},
  {"mark":{"type":"line","color":"#ff0000","strokeWidth":2.5,"clip":true},"encoding":{"x":{"field":"h","type":"quantitative"},"y":{"field":"r","type":"quantitative"}}}
 ]},
{"width":252,"height":116,"title":"FFR","data":{"name":"FFR"},
 "layer":[
  {"mark":{"type":"area","color":"#d9d9d9","opacity":1,"clip":true},"encoding":{"x":{"field":"h","type":"quantitative","scale":{"domain":[0,47],"nice":false,"zero":false},"axis":{"values":[0,10,20,30,40],"tickCount":10,"title":null,"labelOverlap":false,"labelPadding":16}},"y":{"field":"l1","type":"quantitative","scale":{"domain":[-0.16,0.07],"nice":false,"zero":false},"axis":{"values":[-0.15,-0.1,-0.05,0,0.05],"tickCount":10,"title":null,"labelOverlap":false}},"y2":{"field":"u1"}}},
  {"mark":{"type":"area","color":"#a3a3a3","opacity":1,"clip":true},"encoding":{"x":{"field":"h","type":"quantitative"},"y":{"field":"l2","type":"quantitative"},"y2":{"field":"u2"}}},
  {"mark":{"type":"rule","color":"#1a1a1a","strokeWidth":1.6},"encoding":{"y":{"datum":0}}},
  {"mark":{"type":"line","color":"#0000ff","strokeWidth":2.5,"clip":true},"encoding":{"x":{"field":"h","type":"quantitative"},"y":{"field":"b","type":"quantitative"}}},
  {"mark":{"type":"line","color":"#ff0000","strokeWidth":2.5,"clip":true},"encoding":{"x":{"field":"h","type":"quantitative"},"y":{"field":"r","type":"quantitative"}}}
 ]}
],
"config":{
 "font":"Liberation Sans",
 "view":{"stroke":"#262626","strokeWidth":1},
 "axis":{"grid":false,"domain":false,"labelFont":"Liberation Sans","labelFontSize":17,"labelColor":"#262626","labelOverlap":false,"labelFlush":false,"labelBound":false,"ticks":true,"tickSize":-4,"tickColor":"#262626","labelExpr":"toString(datum.value)"},
 "axisX":{"labelPadding":18},
 "axisY":{"labelPadding":7},
 "title":{"font":"Liberation Sans","fontSize":19,"fontWeight":"bold","color":"#000000","offset":5,"anchor":"middle","frame":"group","baseline":"alphabetic"}
}
}
